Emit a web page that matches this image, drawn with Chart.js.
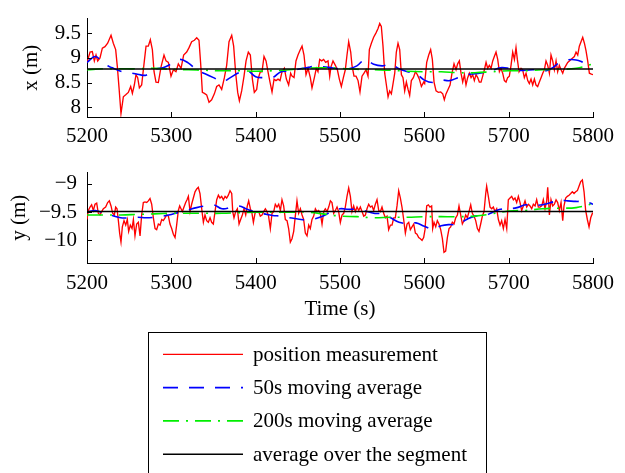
<!DOCTYPE html>
<html>
<head>
<meta charset="utf-8">
<script src="https://cdn.jsdelivr.net/npm/chart.js@4.4.1/dist/chart.umd.min.js"></script>
<style>
  body { margin: 0; background: #fff; width: 625px; height: 473px; overflow: hidden; position: relative; font-family: "Liberation Serif", "Times New Roman", serif; }
  canvas.plot { position: absolute; left: 0; }
  #legend { position: absolute; left: 148px; top: 332px; width: 339px; height: 170px; border: 1px solid #000; box-sizing: border-box; background: #fff; }
  #legend canvas { position: absolute; left: 0; top: 0; }
  #legend span { position: absolute; left: 104px; font-size: 21px; line-height: 24px; white-space: nowrap; color: #000; }
</style>
</head>
<body>
<canvas id="topPlot" class="plot" width="625" height="150" style="top:0"></canvas>
<canvas id="bottomPlot" class="plot" width="625" height="180" style="top:150px"></canvas>
<div id="legend"><canvas id="legendLines" width="337" height="168"></canvas></div>

<script>
// Axis ticks
const timeTicks = [5200, 5300, 5400, 5500, 5600, 5700, 5800];
const xTicks = [8, 8.5, 9, 9.5];
const yTicks = [-10, -9.5, -9];

// x position measurement (m)
const xTime = [
  5200,5203.6,5206.3,5208.7,5210.7,5212.7,5215.4,5218.2,5221.3,5224.5,
  5228.5,5231.2,5234,5236,5238,5240.3,5243.1,5245.9,5249,5251.8,
  5253.8,5256.1,5258.1,5260.1,5262.1,5264.8,5268,5270,5272.7,5275.1,
  5277.5,5279.5,5281.8,5284.6,5287.8,5291.3,5293.7,5296.5,5299.6,5302.4,
  5305.5,5308.3,5311.5,5314.6,5318.2,5321,5324.1,5327.3,5330.1,5332.8,
  5334.8,5336.8,5339.2,5341.9,5344.7,5347.8,5351,5353.8,5356.5,5359.7,
  5362.9,5365.6,5368.4,5371.6,5373.9,5376.3,5378.7,5380.7,5383.4,5386.2,
  5388.6,5391.3,5393.7,5396.1,5398.4,5401.2,
  5402.8,5405.5,5407.5,5409.9,5412.3,5414.6,5417,5419.4,5421.8,5424.1,
  5426.5,5428.9,5431.2,5434,5436.4,5439.1,5441.5,5443.1,5445.5,5447.8,
  5450.2,5453,5455,5457.3,5459.7,5462.1,5464.8,5466.8,5469.6,5471.9,
  5473.9,5475.9,5478.3,5480.6,5483,5485.8,5487.8,5489.3,5491.7,5494.5,
  5496.9,5499.2,5501.6,5504,5506.3,5508.3,5510.3,5512.7,5514.2,5516.6,
  5519,5521.4,5523.7,5526.1,5528.5,5530.9,5533.2,5534.8,5537.2,5539.9,
  5542.7,5545.1,5547.1,5549,5551,5553,5555,5557,5558.9,5560.9,
  5562.9,5564.9,5566.8,5568.8,5570.8,5572.8,5574.7,5576.7,5578.7,5580.7,
  5582.6,5584.6,5587,5589.4,5591.7,5594.1,5596.5,5599.2,
  5600.4,5602.8,5605.2,5607.5,5609.5,5611.5,5613.9,5616.6,5619.4,5621.8,
  5623.7,5625.7,5628.1,5630.5,5632.8,5635.2,5637.6,5639.5,5641.5,5643.5,
  5645.5,5647.5,5649.4,5651.4,5653.4,5655.4,5657.3,5659.3,5661.3,5663.3,
  5665.2,5667.2,5669.2,5671.2,5673.2,5675.1,5677.1,5679.1,5681.1,5683,
  5685,5687,5689,5690.9,5692.9,5694.9,5696.9,5698.8,5700.8,5702.8,
  5704.8,5706.8,5708.7,5710.3,5712.3,5714.7,5716.6,5718.6,5720.6,5722.6,
  5724.5,5726.5,5728.5,5730.5,5732.4,5734.4,5736.4,5738.4,5740.4,5742.3,
  5744.3,5746.3,5748.3,5750.2,5752.2,5754.2,5756.2,5758.1,5760.1,5762.1,
  5764.1,5766,5768,5770,5772,5774,5775.9,5777.9,5779.9,5781.9,
  5783.8,5785.8,5787.8,5789.8,5791.7,5793.7,5795.7,5798.1,5800
];
const xPos = [
  8.91,9.12,9.13,8.94,9.06,8.94,9.0,9.2,9.23,9.3,
  9.46,9.3,9.17,8.82,8.39,7.87,8.21,8.25,8.3,8.42,
  8.28,8.45,8.66,8.6,8.39,8.45,8.94,9.24,9.24,9.37,
  9.17,8.72,8.51,8.5,8.82,9.06,8.94,8.91,8.63,8.76,
  8.72,8.88,8.79,9.06,9.12,9.21,9.33,9.36,9.41,9.36,
  8.88,8.3,8.28,8.25,8.1,8.15,8.27,8.42,8.45,8.36,
  8.6,8.85,9.33,9.46,9.24,8.69,8.3,8.13,8.33,8.63,
  8.94,9.12,9.06,8.57,8.3,8.36,
  8.57,8.72,8.72,9.03,8.94,8.72,8.51,8.31,8.57,8.54,
  8.57,8.54,8.72,8.79,8.57,8.45,8.69,8.63,8.6,8.94,
  9.06,9.17,9.24,9.06,8.66,8.79,8.6,8.39,8.6,8.79,
  8.72,8.97,8.94,8.97,8.91,8.94,8.63,8.82,8.94,8.85,
  8.76,8.57,8.42,8.6,8.76,9.06,9.33,9.12,8.85,8.63,
  8.63,8.54,8.31,8.63,8.69,8.76,8.63,9.17,9.3,9.42,
  9.51,9.6,9.7,9.64,9.24,8.69,8.45,8.21,8.33,8.27,
  8.48,8.69,9.12,9.3,9.17,8.66,8.6,8.33,8.51,8.36,
  8.24,8.54,8.6,8.72,8.66,8.57,8.42,8.51,
  8.48,8.91,9.06,9.17,8.97,8.51,8.33,8.3,8.31,8.27,
  8.15,8.27,8.36,8.45,8.69,8.88,8.76,8.88,8.94,8.69,
  8.51,8.66,8.45,8.6,8.69,8.6,8.66,8.54,8.66,8.6,
  8.51,8.51,8.63,8.76,8.91,8.79,8.85,8.79,8.94,9.03,
  9.12,8.97,8.72,8.79,8.69,8.54,8.51,8.6,8.63,8.85,
  9.12,8.97,9.21,8.97,8.72,8.79,8.76,8.6,8.69,8.54,
  8.48,8.57,8.45,8.57,8.45,8.42,8.51,8.6,8.69,8.76,
  8.94,8.85,8.69,9.06,8.94,8.76,8.94,8.72,8.85,8.76,
  8.69,8.79,8.85,8.91,8.94,8.97,9.0,9.03,9.12,9.06,
  9.24,9.33,9.42,9.3,9.15,8.94,8.69,8.67,8.66
];

// y position measurement (m)
const yTime = [
  5200,5201.6,5203.6,5205.5,5207.5,5209.5,5211.5,5213.4,5215.4,5217.4,
  5219.4,5222.1,5224.5,5226.5,5228.5,5230.4,5232.4,5234,5235.6,5237.2,
  5238.7,5240.3,5241.9,5243.9,5245.9,5247.8,5249.4,5251.4,5253.4,5255,
  5256.9,5258.9,5260.9,5262.9,5264.8,5266.8,5268.8,5270.8,5272.7,5274.7,
  5276.7,5278.7,5280.7,5282.6,5284.6,5286.6,5288.6,5290.5,5292.5,5294.5,
  5296.5,5298.4,5300.4,5302.4,5304.4,5306.3,5308.3,5309.9,5311.5,5313.1,
  5315,5317,5318.6,5320.2,5322.2,5324.1,5326.1,5328.1,5330.1,5332,
  5334,5336,5338,5339.9,5341.9,5343.9,5345.9,5347.8,5349.8,5351.8,
  5353.8,5355.8,5357.7,5359.7,5361.7,5363.7,5365.6,5367.6,5369.6,5371.6,
  5372.8,5374.3,5376.3,5378.3,5380.3,5382.2,5384.2,5386.2,5388.2,5390.1,
  5391.7,5393.7,5395.3,5397.3,5399.2,5401.2,
  5403.6,5405.5,5407.5,5409.5,5411.5,5413.4,5415.3,5417.4,5419.4,5421.4,
  5423.3,5425.3,5427.3,5429.3,5431.2,5433.2,5435.2,5437.2,5439.1,5441.1,
  5443.1,5445.1,5447,5449,5451,5453,5455,5456.9,5458.9,5460.9,
  5462.9,5464.8,5466.8,5468.8,5470.8,5472.7,5474.7,5476.7,5478.7,5480.7,
  5482.6,5484.6,5486.6,5488.6,5490.5,5492.5,5494.5,5496.5,5498.4,5500.4,
  5502.4,5504.4,5506.3,5508.3,5510.3,5512.3,5514.2,5516.2,5518.2,5520.2,
  5522.2,5524.1,5526.1,5528.1,5530.1,5532,5534,5536,5538,5539.9,
  5541.9,5543.9,5545.9,5547.9,5549.8,5551.8,5553.8,5555.8,5557.7,5559.7,
  5561.7,5563.7,5565.6,5567.6,5569.6,5571.6,5573.5,5575.5,5577.5,5579.5,
  5581.5,5583.4,5585.4,5587.4,5589.4,5591.3,5593.3,5595.3,5597.3,5599.2,
  5600.8,5602.8,5604.8,5606.7,5608.7,5609.9,5611.5,5613.5,5615.4,5617.4,
  5619.4,5621.4,5623.3,5625.3,5627.3,5629.3,5631.2,5633.2,5635.2,5637.2,
  5639.2,5641.1,5643.1,5645.1,5647.1,5649,5651,5653,5655,5656.9,
  5658.9,5660.9,5662.9,5664.8,5666.8,5668.8,5670.8,5672.8,5673.9,5675.9,
  5677.9,5679.9,5681.8,5683.8,5685.8,5687.8,5689.8,5691.7,5693.7,5695.7,
  5697.7,5699.6,5701.6,5703.6,5705.6,5707.5,5709.5,5711.5,5713.5,5715.4,
  5717.4,5719.4,5721.4,5723.4,5725.3,5727.3,5729.3,5731.3,5733.2,5735.2,
  5737.2,5739.2,5741.1,5743.1,5745.1,5746.3,5748.3,5750.2,5752.2,5754.2,
  5756.2,5758.1,5760.1,5762.1,5764.1,5765.6,5767.6,5769.6,5771.6,5773.6,
  5775.5,5777.5,5779.5,5781.5,5783.4,5785.4,5787.4,5789.4,5791.3,5793.3,
  5795.3,5797.3,5799.3,5800
];
const yPos = [
  -9.63,-9.47,-9.41,-9.37,-9.47,-9.36,-9.34,-9.52,-9.55,-9.49,
  -9.44,-9.41,-9.33,-9.3,-9.39,-9.52,-9.55,-9.41,-9.44,-9.65,
  -9.87,-10.03,-9.76,-9.65,-9.73,-9.63,-9.84,-9.73,-9.79,-9.63,
  -9.92,-9.71,-9.68,-9.92,-9.55,-9.33,-9.32,-9.33,-9.3,-9.26,
  -9.36,-9.6,-9.79,-9.81,-9.71,-9.73,-9.63,-9.65,-9.6,-9.55,
  -9.57,-9.71,-9.79,-9.89,-9.95,-9.73,-9.47,-9.39,-9.44,-9.49,
  -9.41,-9.33,-9.28,-9.22,-9.49,-9.36,-9.25,-9.14,-9.09,-9.06,
  -9.17,-9.44,-9.68,-9.55,-9.65,-9.68,-9.6,-9.68,-9.71,-9.49,
  -9.28,-9.2,-9.25,-9.22,-9.28,-9.22,-9.25,-9.2,-9.12,-9.17,
  -9.49,-9.6,-9.49,-9.44,-9.71,-9.63,-9.55,-9.44,-9.55,-9.39,
  -9.3,-9.44,-9.49,-9.68,-9.52,-9.49,
  -9.49,-9.57,-9.55,-9.49,-9.44,-9.49,-9.57,-9.79,-9.52,-9.49,
  -9.36,-9.41,-9.36,-9.47,-9.28,-9.39,-9.63,-9.65,-9.79,-10.03,
  -9.97,-9.84,-9.57,-9.3,-9.52,-9.44,-9.55,-9.63,-9.87,-9.92,
  -9.73,-9.79,-9.63,-9.57,-9.44,-9.49,-9.47,-9.52,-9.71,-9.49,
  -9.44,-9.49,-9.41,-9.3,-9.33,-9.52,-9.47,-9.41,-9.49,-9.68,
  -9.55,-9.52,-9.41,-9.22,-9.07,-9.22,-9.49,-9.39,-9.49,-9.41,
  -9.47,-9.41,-9.49,-9.57,-9.55,-9.44,-9.36,-9.41,-9.39,-9.47,
  -9.36,-9.28,-9.47,-9.49,-9.41,-9.52,-9.6,-9.57,-9.81,-9.73,
  -9.73,-9.6,-9.6,-9.39,-9.12,-9.25,-9.41,-9.63,-9.87,-9.71,
  -9.68,-9.81,-9.76,-9.71,-9.87,-9.89,-9.95,-9.97,-10.0,-9.95,
  -9.81,-9.39,-9.37,-9.41,-9.39,-9.79,-9.68,-9.76,-9.65,-9.71,
  -9.81,-9.97,-10.21,-10.19,-9.95,-9.79,-9.76,-9.68,-9.71,-9.6,
  -9.55,-9.39,-9.55,-9.71,-9.65,-9.55,-9.6,-9.49,-9.37,-9.52,
  -9.57,-9.65,-9.79,-9.84,-9.71,-9.57,-9.49,-9.17,-9.04,-9.22,
  -9.41,-9.44,-9.41,-9.49,-9.44,-9.63,-9.73,-9.65,-9.79,-9.63,
  -9.79,-9.28,-9.25,-9.22,-9.28,-9.25,-9.33,-9.22,-9.33,-9.47,
  -9.39,-9.3,-9.41,-9.36,-9.39,-9.44,-9.36,-9.39,-9.28,-9.41,
  -9.41,-9.39,-9.28,-9.44,-9.3,-9.06,-9.55,-9.28,-9.39,-9.36,
  -9.28,-9.33,-9.47,-9.33,-9.65,-9.39,-9.25,-9.22,-9.2,-9.17,
  -9.14,-9.17,-9.14,-9.12,-9.04,-8.96,-8.93,-9.14,-9.47,-9.63,
  -9.76,-9.6,-9.52,-9.53
];

// 50s moving average, sampled every 10 s
const ma50Time = [
  5200,5210,5220,5230,5240,5250,5260,5270,5280,5290,
  5300,5310,5320,5330,5340,5350,5360,5370,5380,5390,
  5400,5410,5420,5430,5440,5450,5460,5470,5480,5490,
  5500,5510,5520,5530,5540,5550,5560,5570,5580,5590,
  5600,5610,5620,5630,5640,5650,5660,5670,5680,5690,
  5700,5710,5720,5730,5740,5750,5760,5770,5780,5790,5800
];
const xMa50 = [
  8.91,9.03,8.88,8.8,8.73,8.7,8.67,8.65,8.77,8.8,
  8.88,8.97,8.9,8.76,8.68,8.6,8.52,8.6,8.7,8.74,
  8.62,8.6,8.6,8.72,8.73,8.77,8.8,8.83,8.82,8.8,
  8.78,8.78,8.84,8.97,8.87,8.84,8.87,8.78,8.72,8.68,
  8.55,8.5,8.55,8.54,8.6,8.66,8.68,8.7,8.74,8.8,
  8.79,8.75,8.75,8.76,8.73,8.78,8.9,8.96,8.96,8.9,8.85
];
const yMa50 = [
  -9.5,-9.47,-9.52,-9.56,-9.6,-9.6,-9.59,-9.6,-9.59,-9.57,
  -9.54,-9.5,-9.46,-9.42,-9.39,-9.37,-9.44,-9.42,-9.39,-9.45,
  -9.5,-9.53,-9.56,-9.57,-9.6,-9.62,-9.64,-9.62,-9.57,-9.49,
  -9.44,-9.45,-9.45,-9.48,-9.52,-9.53,-9.6,-9.68,-9.7,-9.69,
  -9.75,-9.8,-9.74,-9.72,-9.72,-9.63,-9.57,-9.57,-9.51,-9.45,
  -9.44,-9.42,-9.37,-9.38,-9.37,-9.33,-9.29,-9.3,-9.31,-9.31,-9.36
];

// 200s moving average, sampled every 20 s
const ma200Time = [
  5200,5220,5240,5260,5280,5300,5320,5340,5360,5380,
  5400,5420,5440,5460,5480,5500,5520,5540,5560,5580,
  5600,5620,5640,5660,5680,5700,5720,5740,5760,5780,5800
];
const xMa200 = [
  8.76,8.78,8.78,8.78,8.79,8.77,8.76,8.75,8.74,8.74,
  8.73,8.74,8.76,8.79,8.8,8.79,8.77,8.76,8.75,8.73,
  8.72,8.72,8.7,8.7,8.72,8.74,8.74,8.76,8.77,8.79,8.88
];
const yMa200 = [
  -9.55,-9.55,-9.55,-9.54,-9.53,-9.52,-9.52,-9.52,-9.52,-9.51,
  -9.5,-9.5,-9.5,-9.5,-9.53,-9.57,-9.58,-9.6,-9.59,-9.59,
  -9.58,-9.58,-9.58,-9.57,-9.53,-9.48,-9.47,-9.44,-9.43,-9.42,-9.35
];

// average over the segment
const segTime = [5200, 5800];
const xSegAvg = 8.775;
const ySegAvg = -9.49;

const legendLabels = ['position measurement', '50s moving average', '200s moving average', 'average over the segment'];

const FONT = '"Liberation Serif", "Times New Roman", serif';
Chart.defaults.font.family = FONT;
Chart.defaults.font.size = 21;
Chart.defaults.color = '#000';

const lineStyles = [
  { borderColor: '#ff0000', borderWidth: 1.35, borderDash: [] },
  { borderColor: '#0000ff', borderWidth: 1.6, borderDash: [15, 11] },
  { borderColor: '#00ee00', borderWidth: 1.6, borderDash: [16, 7, 2, 7] },
  { borderColor: '#000000', borderWidth: 1.5, borderDash: [] }
];

function pts(ts, vs) {
  return ts.map((t, i) => ({ x: t, y: vs[i] }));
}

function fmt(v) {
  return String(v).replace('-', '\u2212');
}

// MATLAB-like ticks pointing into the axes
const inwardTicks = {
  id: 'inwardTicks',
  afterDatasetsDraw(chart) {
    const { ctx, chartArea, scales } = chart;
    ctx.save();
    ctx.strokeStyle = '#000';
    ctx.lineWidth = 1;
    ctx.beginPath();
    scales.x.ticks.forEach(t => {
      const px = Math.round(scales.x.getPixelForValue(t.value)) + 0.5;
      ctx.moveTo(px, chartArea.bottom);
      ctx.lineTo(px, chartArea.bottom - 5);
    });
    scales.y.ticks.forEach(t => {
      const py = Math.round(scales.y.getPixelForValue(t.value)) + 0.5;
      ctx.moveTo(chartArea.left, py);
      ctx.lineTo(chartArea.left + 5, py);
    });
    ctx.stroke();
    ctx.restore();
  }
};

function makePlot(id, p) {
  const series = [
    pts(p.time, p.pos),
    pts(ma50Time, p.ma50),
    pts(ma200Time, p.ma200),
    pts(segTime, [p.avg, p.avg])
  ];
  const datasets = series.map((data, i) => Object.assign({
    label: legendLabels[i],
    data: data,
    pointRadius: 0,
    fill: false,
    tension: i === 1 || i === 2 ? 0.4 : 0,
    order: 3 - i
  }, lineStyles[i]));

  return new Chart(document.getElementById(id), {
    type: 'line',
    data: { datasets: datasets },
    plugins: [inwardTicks],
    options: {
      responsive: false,
      animation: false,
      events: [],
      layout: { padding: { top: p.padTop, right: 32, left: 0, bottom: 0 } },
      plugins: { legend: { display: false }, tooltip: { enabled: false } },
      scales: {
        x: {
          type: 'linear',
          min: 5200,
          max: 5800,
          afterBuildTicks: s => { s.ticks = timeTicks.map(v => ({ value: v })); },
          afterFit: s => { s.height = p.xHeight; },
          grid: { display: false, drawTicks: false },
          border: { display: true, color: '#000', width: 1 },
          ticks: { padding: p.xPad, maxRotation: 0, autoSkip: false, callback: v => fmt(v) },
          title: { display: !!p.xTitle, text: p.xTitle || '', padding: { top: 0, bottom: 8 } }
        },
        y: {
          type: 'linear',
          min: p.yMin,
          max: p.yMax,
          afterBuildTicks: s => { s.ticks = p.yTicks.map(v => ({ value: v })); },
          afterFit: s => { s.width = 87; },
          grid: { display: false, drawTicks: false },
          border: { display: true, color: '#000', width: 1 },
          ticks: { padding: p.yPad, autoSkip: false, callback: v => fmt(v) },
          title: { display: true, text: p.yTitle, padding: { top: p.titlePad, bottom: 0 } }
        }
      }
    }
  });
}

makePlot('topPlot', {
  time: xTime, pos: xPos, ma50: xMa50, ma200: xMa200, avg: xSegAvg,
  yMin: 7.8, yMax: 9.8, yTicks: xTicks, yTitle: 'x (m)',
  padTop: 7, xHeight: 33, xPad: 7, yPad: 6, titlePad: 19
});

makePlot('bottomPlot', {
  time: yTime, pos: yPos, ma50: yMa50, ma200: yMa200, avg: ySegAvg,
  yMin: -10.4, yMax: -8.8, yTicks: yTicks, yTitle: 'y (m)', xTitle: 'Time (s)',
  padTop: 13, xHeight: 67, xPad: 8, yPad: 10, titlePad: 7
});

// Legend box
const legend = document.getElementById('legend');
const lctx = document.getElementById('legendLines').getContext('2d');
const rowY = [21.3, 54.6, 87.9, 121.2];
legendLabels.forEach((label, i) => {
  const st = lineStyles[i];
  lctx.save();
  lctx.strokeStyle = st.borderColor;
  lctx.lineWidth = st.borderWidth;
  lctx.setLineDash(st.borderDash);
  lctx.beginPath();
  lctx.moveTo(14, rowY[i]);
  lctx.lineTo(94, rowY[i]);
  lctx.stroke();
  lctx.restore();
  const span = document.createElement('span');
  span.textContent = label;
  span.style.top = (rowY[i] - 12.7) + 'px';
  legend.appendChild(span);
});
</script>
</body>
</html>
